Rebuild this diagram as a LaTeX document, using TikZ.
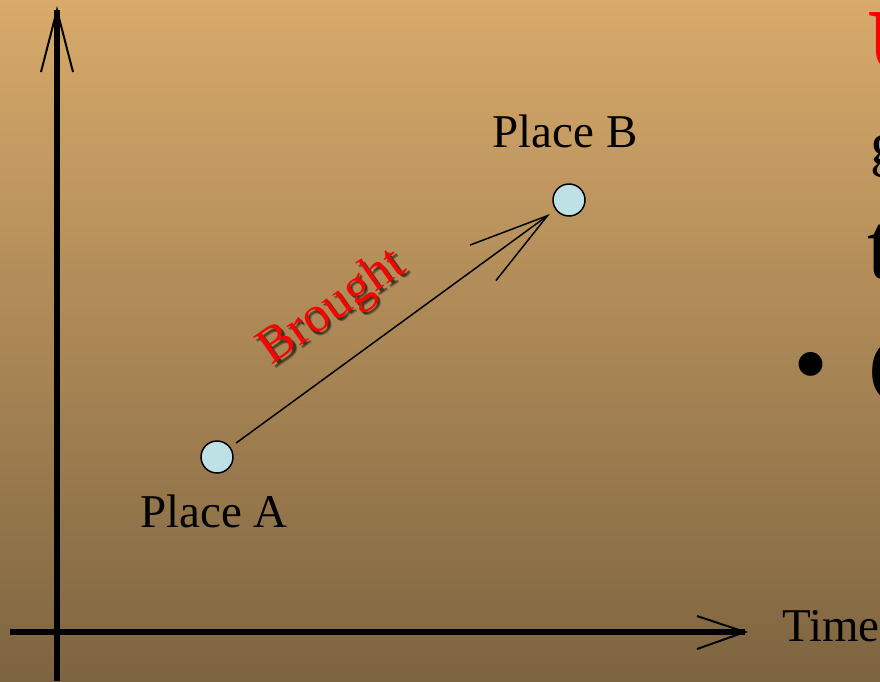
\documentclass[tikz,border=0pt]{standalone}
\usepackage{fontspec}
\setmainfont{Liberation Serif}
\usetikzlibrary{arrows.meta,calc}
\definecolor{bgtop}{HTML}{D8AA6B}
\definecolor{bgbot}{HTML}{7D6440}
\definecolor{placefill}{HTML}{BDE1E5}
\begin{document}
\begin{tikzpicture}[x=1pt,y=-1pt,
  place/.style={circle,draw=black,line width=1.5pt,fill=placefill,minimum size=32pt,inner sep=0pt},
  lbl/.style={font=\fontsize{47}{56}\selectfont,text=black,inner sep=0pt},
  axisline/.style={line width=5.5pt},
  barb/.style={line width=2pt},
  side/.style={inner sep=0pt,anchor=base west},
  bfont/.style={font=\fontsize{51}{60}\selectfont,inner sep=0pt,rotate=35,anchor=base}]
\useasboundingbox (0,0) rectangle (880,681);
\clip (0,0) rectangle (880,681);
\shade[top color=bgtop,bottom color=bgbot] (0,0) rectangle (880,681);

% axes
\coordinate (yTop) at (57,10);
\coordinate (yBot) at (57,681);
\coordinate (xLeft) at (10,632);
\coordinate (xRight) at (745,632);
\draw[axisline] (yBot) -- (yTop);
\draw[barb] ($(yTop)+(-16,62)$) -- (yTop) -- ($(yTop)+(16,62)$);
\draw[axisline] (xLeft) -- (xRight);
\draw[barb] ($(xRight)+(-48,-16)$) -- (xRight) -- ($(xRight)+(-48,17)$);

% places
\node[place] (A) at (217,457) {};
\node[place] (B) at (569,200) {};
\draw[line width=1.5pt,shorten <=7pt,shorten >=7pt,-{Straight Barb[length=80pt,width=44pt]}] (A) -- (B);

\node[lbl,anchor=base] (pa) at (214,527) {Place A};
\node[lbl,anchor=base] (pb) at (565,147) {Place B};
\node[lbl,anchor=base west] (time) at (782,641) {Time};

% label on arrow
\node[bfont,text=black,opacity=0.3] (bshadow2) at (343.5,321.5) {Brought};
\node[bfont,text=black,opacity=0.45] (bshadow) at (342.5,320.5) {Brought};
\node[bfont,text=red] (brought) at (340,318) {Brought};

% clipped slide text at right
\node[side,text=red,font=\bfseries\fontsize{90}{100}\selectfont] (u) at (867,71) {U};
\node[side,font=\fontsize{62}{70}\selectfont] (g) at (870,164) {g};
\node[side,font=\fontsize{95}{100}\selectfont] (t) at (867,278) {t};
\node[inner sep=0pt,font=\fontsize{100}{110}\selectfont] (bul) at (811,375) {•};
\node[side,font=\fontsize{100}{110}\selectfont] (c) at (868,404) {C};
\end{tikzpicture}
\end{document}
